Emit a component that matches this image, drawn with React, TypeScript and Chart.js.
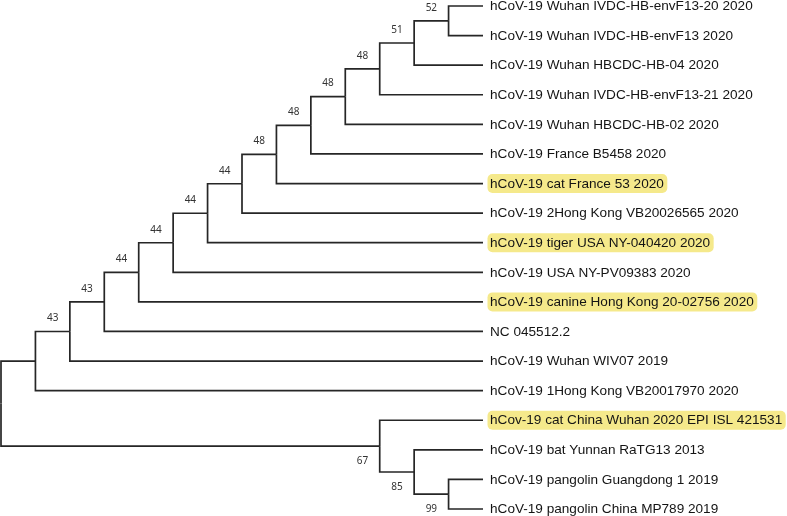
import React, { useEffect, useRef } from "react";
import { Chart, registerables } from "chart.js";

Chart.register(...registerables);

// ---- Data ----
const leafNames = [
  "hCoV-19 Wuhan IVDC-HB-envF13-20 2020",
  "hCoV-19 Wuhan IVDC-HB-envF13 2020",
  "hCoV-19 Wuhan HBCDC-HB-04 2020",
  "hCoV-19 Wuhan IVDC-HB-envF13-21 2020",
  "hCoV-19 Wuhan HBCDC-HB-02 2020",
  "hCoV-19 France B5458 2020",
  "hCoV-19 cat France 53 2020",
  "hCoV-19 2Hong Kong VB20026565 2020",
  "hCoV-19 tiger USA NY-040420 2020",
  "hCoV-19 USA NY-PV09383 2020",
  "hCoV-19 canine Hong Kong 20-02756 2020",
  "NC 045512.2",
  "hCoV-19 Wuhan WIV07 2019",
  "hCoV-19 1Hong Kong VB20017970 2020",
  "hCov-19 cat China Wuhan 2020 EPI ISL 421531",
  "hCoV-19 bat Yunnan RaTG13 2013",
  "hCoV-19 pangolin Guangdong 1 2019",
  "hCoV-19 pangolin China MP789 2019",
];
const highlightedLeaves = [6, 8, 10, 14];
const leafDepth = 14;

// internal nodes: depth (cladogram level), children, bootstrap support
const nodeDepth = [0, 1, 2, 3, 4, 5, 6, 7, 8, 9, 10, 11, 12, 13, 11, 12, 13];
const nodeChildren = [
  ["N1", "N14"],
  ["N2", "L13"],
  ["N3", "L12"],
  ["N4", "L11"],
  ["N5", "L10"],
  ["N6", "L9"],
  ["N7", "L8"],
  ["N8", "L7"],
  ["N9", "L6"],
  ["N10", "L5"],
  ["N11", "L4"],
  ["N12", "L3"],
  ["N13", "L2"],
  ["L0", "L1"],
  ["L14", "N15"],
  ["L15", "N16"],
  ["L16", "L17"],
];
const nodeSupport = [null, null, 43, 43, 44, 44, 44, 44, 48, 48, 48, 48, 51, 52, 67, 85, 99];

// ---- Tree helpers ----
function refDepth(ref: string): number {
  return ref[0] === "L" ? leafDepth : nodeDepth[parseInt(ref.slice(1), 10)];
}
function refY(ref: string): number {
  const i = parseInt(ref.slice(1), 10);
  if (ref[0] === "L") return i;
  const ch = nodeChildren[i];
  return (refY(ch[0]) + refY(ch[ch.length - 1])) / 2;
}

export default function App() {
  const canvasRef = useRef<HTMLCanvasElement | null>(null);

  useEffect(() => {
    const canvas = canvasRef.current;
    if (!canvas) return;

    const datasets: any[] = [];
    nodeChildren.forEach((children, p) => {
      const px = nodeDepth[p];
      const py = refY("N" + p);
      children.forEach((c) => {
        datasets.push({
          data: [
            { x: px, y: py },
            { x: px, y: refY(c) },
            { x: refDepth(c), y: refY(c) },
          ],
          showLine: true,
          borderColor: "#262626",
          borderWidth: 1.7,
          pointRadius: 0,
          pointHoverRadius: 0,
          fill: false,
          tension: 0,
          clip: false,
          borderJoinStyle: "miter",
          borderCapStyle: "butt",
        });
      });
    });

    const labelPlugin = {
      id: "treeLabels",
      afterDatasetsDraw(chart: any) {
        const ctx = chart.ctx;
        const xs = chart.scales.x;
        const ys = chart.scales.y;
        ctx.save();
        // leaf labels
        ctx.font = "13.6px 'Liberation Sans', Arial, sans-serif";
        ctx.textBaseline = "middle";
        ctx.textAlign = "left";
        const tx = xs.getPixelForValue(leafDepth) + 7;
        leafNames.forEach((name, i) => {
          const ty = ys.getPixelForValue(i);
          if (highlightedLeaves.includes(i)) {
            const w = ctx.measureText(name).width;
            ctx.fillStyle = "#f5e98b";
            ctx.beginPath();
            (ctx as any).roundRect(tx - 2.5, ty - 9.5, w + 6, 19, 5);
            ctx.fill();
          }
          ctx.fillStyle = "#141414";
          ctx.fillText(name, tx, ty + 0.5);
        });
        // support values
        ctx.font = "10px 'Noto Sans', sans-serif";
        ctx.textAlign = "center";
        ctx.fillStyle = "#333333";
        nodeChildren.forEach((children, p) => {
          children.forEach((c, k) => {
            if (c[0] !== "N") return;
            const ci = parseInt(c.slice(1), 10);
            const s = nodeSupport[ci];
            if (s == null) return;
            const lx = xs.getPixelForValue(nodeDepth[ci] - 0.5);
            const ly = ys.getPixelForValue(refY(c)) + (k === 0 ? -13 : 15);
            ctx.fillText(String(s), lx, ly);
          });
        });
        ctx.restore();
      },
    };

    const chart = new Chart(canvas, {
      type: "scatter",
      data: { datasets },
      options: {
        animation: false,
        responsive: false,
        events: [],
        layout: { padding: { left: 1, right: 304, top: 6, bottom: 7 } },
        scales: {
          x: { type: "linear", min: 0, max: leafDepth, display: false },
          y: { type: "linear", min: 0, max: leafNames.length - 1, reverse: true, display: false },
        },
        plugins: { legend: { display: false }, tooltip: { enabled: false } },
      },
      plugins: [labelPlugin],
    } as any);

    return () => chart.destroy();
  }, []);

  return (
    <div style={{ position: "absolute", left: 0, top: 0, width: 787, height: 516, background: "#fff" }}>
      <canvas ref={canvasRef} width={787} height={516} style={{ display: "block" }} />
    </div>
  );
}
